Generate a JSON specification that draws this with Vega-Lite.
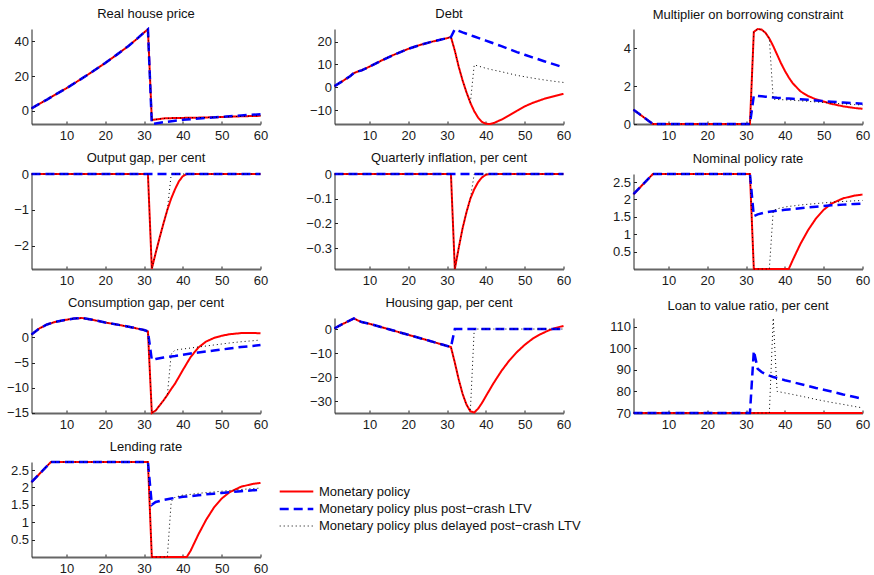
{
  "$schema": "https://vega.github.io/schema/vega-lite/v6.json",
  "padding": {"left": 5.5, "top": 8, "right": 0, "bottom": 0},
  "config": {
    "font": "Liberation Sans",
    "view": {"stroke": null},
    "axis": {"grid": false, "title": null, "labelFont": "Liberation Sans", "labelFontSize": 13, "labelColor": "#1a1a1a", "tickSize": -3, "tickColor": "#222", "labelFlush": false, "labelOverlap": false, "labelPadding": 6, "domainColor": "#222", "domainWidth": 1},
    "axisX": {"domainColor": "#666", "domainWidth": 2, "labelPadding": 8},
    "title": {"font": "Liberation Sans", "fontSize": 13, "fontWeight": "normal", "color": "#111", "offset": 3},
    "legend": {"orient": "none", "legendX": 257.5, "legendY": 455.5, "labelFont": "Liberation Sans", "labelFontSize": 13, "labelColor": "#111", "labelLimit": 0, "symbolType": "M-2.8,0H2.8", "symbolSize": 144, "labelOffset": 15, "rowPadding": 3, "padding": 0},
    "line": {"strokeCap": "butt"}
  },
  "datasets": {
    "house": [
      {"t":1,"m":1.5,"l":1.5,"d":1.5},{"t":3,"m":4,"l":4,"d":4},{"t":5,"m":6.5,"l":6.5,"d":6.5},{"t":7,"m":9.2,"l":9.2,"d":9.2},
      {"t":10,"m":13,"l":13,"d":13},{"t":13,"m":17.2,"l":17.2,"d":17.2},{"t":16,"m":21.5,"l":21.5,"d":21.5},{"t":20,"m":27.5,"l":27.5,"d":27.5},
      {"t":23,"m":32.3,"l":32.3,"d":32.3},{"t":26,"m":37.3,"l":37.3,"d":37.3},{"t":28,"m":41,"l":41,"d":41},{"t":30,"m":45,"l":45,"d":45},
      {"t":31,"m":46.8,"l":46.8,"d":46.8},{"t":32,"m":-5.2,"l":-7.5,"d":-5.2},{"t":35,"m":-4.3,"l":-6.5,"d":-4.3},{"t":38,"m":-4.05,"l":-5.6,"d":-4.05},
      {"t":40,"m":-4.0,"l":-5.1,"d":-4.0},{"t":45,"m":-3.8,"l":-4.2,"d":-3.8},{"t":50,"m":-3.5,"l":-3.4,"d":-3.5},{"t":55,"m":-3.1,"l":-2.6,"d":-3.1},
      {"t":60,"m":-2.8,"l":-1.9,"d":-2.8}
    ],
    "debt": [
      {"t":1,"m":0.5,"l":0.5,"d":0.5},{"t":3,"m":2.6,"l":2.6,"d":2.6},{"t":5,"m":4.8,"l":4.8,"d":4.8},{"t":6,"m":6.2,"l":6.2,"d":6.2},
      {"t":7,"m":6.9,"l":6.9,"d":6.9},{"t":8,"m":7.4,"l":7.4,"d":7.4},{"t":10,"m":9.0,"l":9.0,"d":9.0},{"t":13,"m":11.6,"l":11.6,"d":11.6},
      {"t":16,"m":14.0,"l":14.0,"d":14.0},{"t":20,"m":16.8,"l":16.8,"d":16.8},{"t":23,"m":18.5,"l":18.5,"d":18.5},{"t":26,"m":19.9,"l":19.9,"d":19.9},
      {"t":28,"m":20.7,"l":20.7,"d":20.7},{"t":30,"m":21.5,"l":21.5,"d":21.5},{"t":31,"m":22.0,"l":22.0,"d":22.0},
      {"t":32,"m":16,"l":25.4,"d":16},{"t":33,"m":9,"l":24.7,"d":9},{"t":34,"m":3,"l":24.0,"d":3},{"t":35,"m":-2.2,"l":23.4,"d":-2.2},
      {"t":36,"m":-6.8,"l":22.8,"d":-6.8},{"t":37,"m":-10.5,"l":22.2,"d":9.8},{"t":38,"m":-13.3,"l":21.6,"d":9.3},{"t":39,"m":-15.2,"l":21.0,"d":8.8},
      {"t":40,"m":-16.0,"l":20.4,"d":8.3},{"t":41,"m":-16.1,"l":19.8,"d":7.9},{"t":42,"m":-15.7,"l":19.2,"d":7.5},{"t":44,"m":-14.2,"l":18.0,"d":6.8},
      {"t":46,"m":-12.3,"l":16.7,"d":6.0},{"t":48,"m":-10.3,"l":15.4,"d":5.2},{"t":50,"m":-8.4,"l":14.2,"d":4.6},{"t":52,"m":-6.9,"l":13.1,"d":4.0},
      {"t":55,"m":-5.1,"l":11.4,"d":3.2},{"t":58,"m":-3.7,"l":9.8,"d":2.5},{"t":60,"m":-2.9,"l":8.7,"d":2.1}
    ],
    "mult": [
      {"t":1,"m":0.75,"l":0.75,"d":0.75},{"t":3,"m":0.45,"l":0.45,"d":0.45},{"t":5,"m":0.15,"l":0.15,"d":0.15},{"t":6,"m":0,"l":0,"d":0},
      {"t":31,"m":0,"l":0,"d":0},{"t":32,"m":4.85,"l":1.5,"d":4.85},{"t":33,"m":5.0,"l":1.48,"d":5.0},{"t":34,"m":4.97,"l":1.46,"d":4.97},
      {"t":35,"m":4.8,"l":1.44,"d":4.8},{"t":36,"m":4.5,"l":1.42,"d":4.5},{"t":37,"m":4.1,"l":1.4,"d":1.3},{"t":38,"m":3.65,"l":1.38,"d":1.29},
      {"t":39,"m":3.2,"l":1.37,"d":1.28},{"t":40,"m":2.8,"l":1.35,"d":1.27},{"t":41,"m":2.45,"l":1.34,"d":1.26},{"t":42,"m":2.15,"l":1.33,"d":1.25},
      {"t":44,"m":1.72,"l":1.3,"d":1.22},{"t":46,"m":1.47,"l":1.27,"d":1.19},{"t":48,"m":1.3,"l":1.24,"d":1.16},{"t":50,"m":1.18,"l":1.2,"d":1.13},
      {"t":52,"m":1.06,"l":1.17,"d":1.1},{"t":55,"m":0.93,"l":1.13,"d":1.06},{"t":58,"m":0.84,"l":1.09,"d":1.02},{"t":60,"m":0.8,"l":1.07,"d":1.0}
    ],
    "output": [
      {"t":1,"m":0,"l":0,"d":0},{"t":31,"m":0,"l":0,"d":0},{"t":32,"m":-2.64,"l":0,"d":-2.64},{"t":33,"m":-2.2,"l":0,"d":-2.2},
      {"t":34,"m":-1.78,"l":0,"d":-1.78},{"t":35,"m":-1.38,"l":0,"d":-1.38},{"t":36,"m":-1.0,"l":0,"d":-1.0},{"t":37,"m":-0.68,"l":0,"d":0},
      {"t":38,"m":-0.42,"l":0,"d":0},{"t":39,"m":-0.2,"l":0,"d":0},{"t":40,"m":-0.06,"l":0,"d":0},{"t":41,"m":0,"l":0,"d":0},{"t":60,"m":0,"l":0,"d":0}
    ],
    "infl": [
      {"t":1,"m":0,"l":0,"d":0},{"t":31,"m":0,"l":0,"d":0},{"t":32,"m":-0.385,"l":0,"d":-0.385},{"t":33,"m":-0.3,"l":0,"d":-0.3},
      {"t":34,"m":-0.22,"l":0,"d":-0.22},{"t":35,"m":-0.155,"l":0,"d":-0.155},{"t":36,"m":-0.1,"l":0,"d":-0.1},{"t":37,"m":-0.062,"l":0,"d":0},
      {"t":38,"m":-0.033,"l":0,"d":0},{"t":39,"m":-0.014,"l":0,"d":0},{"t":40,"m":-0.003,"l":0,"d":0},{"t":41,"m":0,"l":0,"d":0},{"t":60,"m":0,"l":0,"d":0}
    ],
    "nominal": [
      {"t":1,"m":2.15,"l":2.15,"d":2.15},{"t":6,"m":2.73,"l":2.73,"d":2.73},{"t":31,"m":2.73,"l":2.73,"d":2.73},
      {"t":32,"m":0,"l":1.52,"d":0},{"t":33,"m":0,"l":1.57,"d":0},{"t":35,"m":0,"l":1.63,"d":0},{"t":36,"m":0,"l":1.645,"d":0},
      {"t":37,"m":0,"l":1.66,"d":1.68},{"t":38,"m":0,"l":1.675,"d":1.73},{"t":40,"m":0,"l":1.7,"d":1.78},{"t":41,"m":0,"l":1.71,"d":1.8},
      {"t":42,"m":0.25,"l":1.72,"d":1.81},{"t":44,"m":0.72,"l":1.745,"d":1.84},{"t":46,"m":1.12,"l":1.77,"d":1.86},{"t":48,"m":1.45,"l":1.79,"d":1.88},
      {"t":50,"m":1.7,"l":1.81,"d":1.9},{"t":52,"m":1.88,"l":1.83,"d":1.92},{"t":55,"m":2.03,"l":1.85,"d":1.94},{"t":58,"m":2.11,"l":1.87,"d":1.96},
      {"t":60,"m":2.14,"l":1.88,"d":1.97}
    ],
    "cons": [
      {"t":1,"m":0.6,"l":0.6,"d":0.6},{"t":3,"m":1.8,"l":1.8,"d":1.8},{"t":5,"m":2.6,"l":2.6,"d":2.6},{"t":7,"m":3.1,"l":3.1,"d":3.1},
      {"t":10,"m":3.55,"l":3.55,"d":3.55},{"t":12,"m":3.8,"l":3.8,"d":3.8},{"t":14,"m":3.9,"l":3.9,"d":3.9},{"t":17,"m":3.5,"l":3.5,"d":3.5},
      {"t":20,"m":3.0,"l":3.0,"d":3.0},{"t":24,"m":2.45,"l":2.45,"d":2.45},{"t":27,"m":2.0,"l":2.0,"d":2.0},{"t":30,"m":1.5,"l":1.5,"d":1.5},
      {"t":31,"m":1.2,"l":1.2,"d":1.2},{"t":32,"m":-15.1,"l":-4.5,"d":-15.1},{"t":33,"m":-14.6,"l":-4.3,"d":-14.6},{"t":34,"m":-13.6,"l":-4.15,"d":-13.6},
      {"t":35,"m":-12.6,"l":-4.0,"d":-12.6},{"t":36,"m":-11.5,"l":-3.9,"d":-11.5},{"t":37,"m":-10.3,"l":-3.8,"d":-3.3},{"t":38,"m":-9.2,"l":-3.7,"d":-2.5},
      {"t":40,"m":-6.5,"l":-3.45,"d":-2.3},{"t":42,"m":-3.9,"l":-3.2,"d":-2.1},{"t":44,"m":-2.0,"l":-3.0,"d":-1.9},{"t":46,"m":-0.8,"l":-2.8,"d":-1.7},
      {"t":48,"m":-0.1,"l":-2.6,"d":-1.5},{"t":50,"m":0.35,"l":-2.4,"d":-1.3},{"t":52,"m":0.65,"l":-2.2,"d":-1.1},{"t":55,"m":0.88,"l":-1.9,"d":-0.85},
      {"t":58,"m":0.9,"l":-1.7,"d":-0.65},{"t":60,"m":0.85,"l":-1.5,"d":-0.5}
    ],
    "housing": [
      {"t":1,"m":0.3,"l":0.3,"d":0.3},{"t":3,"m":2.0,"l":2.0,"d":2.0},{"t":5,"m":3.6,"l":3.6,"d":3.6},{"t":6,"m":4.4,"l":4.4,"d":4.4},
      {"t":7,"m":3.6,"l":3.6,"d":3.6},{"t":8,"m":2.9,"l":2.9,"d":2.9},{"t":10,"m":2.2,"l":2.2,"d":2.2},{"t":15,"m":-0.1,"l":-0.1,"d":-0.1},
      {"t":20,"m":-2.4,"l":-2.4,"d":-2.4},{"t":25,"m":-4.7,"l":-4.7,"d":-4.7},{"t":28,"m":-6.1,"l":-6.1,"d":-6.1},{"t":31,"m":-7.5,"l":-7.5,"d":-7.5},
      {"t":32,"m":-14,"l":0,"d":-14},{"t":33,"m":-21,"l":0,"d":-21},{"t":34,"m":-27,"l":0,"d":-27},{"t":35,"m":-31.5,"l":0,"d":-31.5},
      {"t":36,"m":-34.3,"l":0,"d":-34.3},{"t":37,"m":-34.8,"l":0,"d":0},{"t":38,"m":-33.2,"l":0,"d":0},{"t":39,"m":-30.8,"l":0,"d":0},
      {"t":40,"m":-28,"l":0,"d":0},{"t":42,"m":-22.5,"l":0,"d":0},{"t":44,"m":-17.5,"l":0,"d":0},{"t":46,"m":-13.2,"l":0,"d":0},
      {"t":48,"m":-9.6,"l":0,"d":0},{"t":50,"m":-6.6,"l":0,"d":0},{"t":52,"m":-4.1,"l":0,"d":0},{"t":54,"m":-2.2,"l":0,"d":0},
      {"t":56,"m":-0.7,"l":0,"d":0},{"t":58,"m":0.5,"l":0,"d":0},{"t":60,"m":1.3,"l":0,"d":0}
    ],
    "ltv": [
      {"t":1,"m":70,"l":70,"d":70},{"t":31,"m":70,"l":70,"d":70},{"t":32,"m":70,"l":98.8,"d":70},{"t":33,"m":70,"l":90.5,"d":70},
      {"t":34,"m":70,"l":89,"d":70},{"t":35,"m":70,"l":88,"d":70},{"t":36,"m":70,"l":87.3,"d":70},{"t":37,"m":70,"l":86.7,"d":114},
      {"t":38,"m":70,"l":86.2,"d":80},{"t":40,"m":70,"l":85.2,"d":79.3},{"t":42,"m":70,"l":84.3,"d":78.6},{"t":45,"m":70,"l":83.0,"d":77.5},
      {"t":48,"m":70,"l":81.6,"d":76.3},{"t":50,"m":70,"l":80.8,"d":75.6},{"t":52,"m":70,"l":80.0,"d":74.9},{"t":55,"m":70,"l":78.6,"d":74.0},
      {"t":58,"m":70,"l":77.4,"d":73.0},{"t":60,"m":70,"l":76.6,"d":72.4}
    ],
    "lending": [
      {"t":1,"m":2.15,"l":2.15,"d":2.15},{"t":6,"m":2.73,"l":2.73,"d":2.73},{"t":31,"m":2.73,"l":2.73,"d":2.73},
      {"t":32,"m":0,"l":1.5,"d":0},{"t":33,"m":0,"l":1.58,"d":0},{"t":35,"m":0,"l":1.64,"d":0},{"t":36,"m":0,"l":1.66,"d":0},
      {"t":37,"m":0,"l":1.68,"d":1.6},{"t":38,"m":0,"l":1.7,"d":1.72},{"t":40,"m":0,"l":1.73,"d":1.78},{"t":41,"m":0,"l":1.74,"d":1.79},
      {"t":42,"m":0.18,"l":1.75,"d":1.8},{"t":44,"m":0.65,"l":1.775,"d":1.83},{"t":46,"m":1.07,"l":1.8,"d":1.85},{"t":48,"m":1.42,"l":1.82,"d":1.87},
      {"t":50,"m":1.68,"l":1.84,"d":1.89},{"t":52,"m":1.86,"l":1.86,"d":1.91},{"t":55,"m":2.02,"l":1.89,"d":1.94},{"t":58,"m":2.1,"l":1.915,"d":1.965},
      {"t":60,"m":2.13,"l":1.93,"d":1.98}
    ]
  },
  "columns": 3,
  "spacing": {"row": 10, "column": 37},
  "concat": [
    {"title": "Real house price", "width": 229, "height": 95, "data": {"name": "house"},
     "transform": [{"fold": ["m","l","d"], "as": ["s","v"]}],
     "mark": {"type": "line"},
     "encoding": {
       "x": {"field": "t", "type": "quantitative", "scale": {"domain": [1,60], "nice": false}, "axis": {"values": [10,20,30,40,50,60]}},
       "y": {"field": "v", "type": "quantitative", "scale": {"domain": [-7.5,47], "nice": false, "zero": false}, "axis": {"values": [0,20,40], "format": "~f"}},
       "color": {"field": "s", "type": "nominal", "scale": {"domain": ["m","l","d"], "range": ["#ff0000","#0000ff","#000000"]}, "legend": {"title": null, "labelExpr": "datum.value == 'm' ? 'Monetary policy' : datum.value == 'l' ? 'Monetary policy plus post−crash LTV' : 'Monetary policy plus delayed post−crash LTV'"}},
       "strokeDash": {"field": "s", "type": "nominal", "scale": {"domain": ["m","l","d"], "range": [[1,0],[9,5],[1,3]]}, "legend": {"title": null}},
       "strokeWidth": {"field": "s", "type": "nominal", "scale": {"type": "ordinal", "domain": ["m","l","d"], "range": [2,2.5,1]}, "legend": {"title": null}}
     }},
    {"title": "Debt", "width": 229, "height": 95, "data": {"name": "debt"},
     "transform": [{"fold": ["m","l","d"], "as": ["s","v"]}],
     "mark": {"type": "line"},
     "encoding": {
       "x": {"field": "t", "type": "quantitative", "scale": {"domain": [1,60], "nice": false}, "axis": {"values": [10,20,30,40,50,60]}},
       "y": {"field": "v", "type": "quantitative", "scale": {"domain": [-16.1,25.5], "nice": false, "zero": false}, "axis": {"values": [-10,0,10,20], "format": "~f"}},
       "color": {"field": "s", "type": "nominal", "scale": {"domain": ["m","l","d"], "range": ["#ff0000","#0000ff","#000000"]}, "legend": {"title": null}},
       "strokeDash": {"field": "s", "type": "nominal", "scale": {"domain": ["m","l","d"], "range": [[1,0],[9,5],[1,3]]}, "legend": {"title": null}},
       "strokeWidth": {"field": "s", "type": "nominal", "scale": {"type": "ordinal", "domain": ["m","l","d"], "range": [2,2.5,1]}, "legend": {"title": null}}
     }},
    {"title": "Multiplier on borrowing constraint", "width": 229, "height": 95, "data": {"name": "mult"},
     "transform": [{"fold": ["m","l","d"], "as": ["s","v"]}],
     "mark": {"type": "line"},
     "encoding": {
       "x": {"field": "t", "type": "quantitative", "scale": {"domain": [1,60], "nice": false}, "axis": {"values": [10,20,30,40,50,60]}},
       "y": {"field": "v", "type": "quantitative", "scale": {"domain": [0,5], "nice": false, "zero": false}, "axis": {"values": [0,2,4], "format": "~f"}},
       "color": {"field": "s", "type": "nominal", "scale": {"domain": ["m","l","d"], "range": ["#ff0000","#0000ff","#000000"]}, "legend": {"title": null}},
       "strokeDash": {"field": "s", "type": "nominal", "scale": {"domain": ["m","l","d"], "range": [[1,0],[9,5],[1,3]]}, "legend": {"title": null}},
       "strokeWidth": {"field": "s", "type": "nominal", "scale": {"type": "ordinal", "domain": ["m","l","d"], "range": [2,2.5,1]}, "legend": {"title": null}}
     }},
    {"title": "Output gap, per cent", "width": 229, "height": 95, "data": {"name": "output"},
     "transform": [{"fold": ["m","l","d"], "as": ["s","v"]}],
     "mark": {"type": "line"},
     "encoding": {
       "x": {"field": "t", "type": "quantitative", "scale": {"domain": [1,60], "nice": false}, "axis": {"values": [10,20,30,40,50,60]}},
       "y": {"field": "v", "type": "quantitative", "scale": {"domain": [-2.65,0], "nice": false, "zero": false}, "axis": {"values": [-2,-1,0], "format": "~f"}},
       "color": {"field": "s", "type": "nominal", "scale": {"domain": ["m","l","d"], "range": ["#ff0000","#0000ff","#000000"]}, "legend": {"title": null}},
       "strokeDash": {"field": "s", "type": "nominal", "scale": {"domain": ["m","l","d"], "range": [[1,0],[9,5],[1,3]]}, "legend": {"title": null}},
       "strokeWidth": {"field": "s", "type": "nominal", "scale": {"type": "ordinal", "domain": ["m","l","d"], "range": [2,2.5,1]}, "legend": {"title": null}}
     }},
    {"title": "Quarterly inflation, per cent", "width": 229, "height": 95, "data": {"name": "infl"},
     "transform": [{"fold": ["m","l","d"], "as": ["s","v"]}],
     "mark": {"type": "line"},
     "encoding": {
       "x": {"field": "t", "type": "quantitative", "scale": {"domain": [1,60], "nice": false}, "axis": {"values": [10,20,30,40,50,60]}},
       "y": {"field": "v", "type": "quantitative", "scale": {"domain": [-0.385,0], "nice": false, "zero": false}, "axis": {"values": [-0.3,-0.2,-0.1,0], "format": "~f"}},
       "color": {"field": "s", "type": "nominal", "scale": {"domain": ["m","l","d"], "range": ["#ff0000","#0000ff","#000000"]}, "legend": {"title": null}},
       "strokeDash": {"field": "s", "type": "nominal", "scale": {"domain": ["m","l","d"], "range": [[1,0],[9,5],[1,3]]}, "legend": {"title": null}},
       "strokeWidth": {"field": "s", "type": "nominal", "scale": {"type": "ordinal", "domain": ["m","l","d"], "range": [2,2.5,1]}, "legend": {"title": null}}
     }},
    {"title": "Nominal policy rate", "width": 229, "height": 95, "data": {"name": "nominal"},
     "transform": [{"fold": ["m","l","d"], "as": ["s","v"]}],
     "mark": {"type": "line"},
     "encoding": {
       "x": {"field": "t", "type": "quantitative", "scale": {"domain": [1,60], "nice": false}, "axis": {"values": [10,20,30,40,50,60]}},
       "y": {"field": "v", "type": "quantitative", "scale": {"domain": [0,2.73], "nice": false, "zero": false}, "axis": {"values": [0.5,1,1.5,2,2.5], "format": "~f"}},
       "color": {"field": "s", "type": "nominal", "scale": {"domain": ["m","l","d"], "range": ["#ff0000","#0000ff","#000000"]}, "legend": {"title": null}},
       "strokeDash": {"field": "s", "type": "nominal", "scale": {"domain": ["m","l","d"], "range": [[1,0],[9,5],[1,3]]}, "legend": {"title": null}},
       "strokeWidth": {"field": "s", "type": "nominal", "scale": {"type": "ordinal", "domain": ["m","l","d"], "range": [2,2.5,1]}, "legend": {"title": null}}
     }},
    {"title": "Consumption gap, per cent", "width": 229, "height": 95, "data": {"name": "cons"},
     "transform": [{"fold": ["m","l","d"], "as": ["s","v"]}],
     "mark": {"type": "line"},
     "encoding": {
       "x": {"field": "t", "type": "quantitative", "scale": {"domain": [1,60], "nice": false}, "axis": {"values": [10,20,30,40,50,60]}},
       "y": {"field": "v", "type": "quantitative", "scale": {"domain": [-15.1,3.9], "nice": false, "zero": false}, "axis": {"values": [-15,-10,-5,0], "format": "~f"}},
       "color": {"field": "s", "type": "nominal", "scale": {"domain": ["m","l","d"], "range": ["#ff0000","#0000ff","#000000"]}, "legend": {"title": null}},
       "strokeDash": {"field": "s", "type": "nominal", "scale": {"domain": ["m","l","d"], "range": [[1,0],[9,5],[1,3]]}, "legend": {"title": null}},
       "strokeWidth": {"field": "s", "type": "nominal", "scale": {"type": "ordinal", "domain": ["m","l","d"], "range": [2,2.5,1]}, "legend": {"title": null}}
     }},
    {"title": "Housing gap, per cent", "width": 229, "height": 95, "data": {"name": "housing"},
     "transform": [{"fold": ["m","l","d"], "as": ["s","v"]}],
     "mark": {"type": "line"},
     "encoding": {
       "x": {"field": "t", "type": "quantitative", "scale": {"domain": [1,60], "nice": false}, "axis": {"values": [10,20,30,40,50,60]}},
       "y": {"field": "v", "type": "quantitative", "scale": {"domain": [-35,4.6], "nice": false, "zero": false}, "axis": {"values": [-30,-20,-10,0], "format": "~f"}},
       "color": {"field": "s", "type": "nominal", "scale": {"domain": ["m","l","d"], "range": ["#ff0000","#0000ff","#000000"]}, "legend": {"title": null}},
       "strokeDash": {"field": "s", "type": "nominal", "scale": {"domain": ["m","l","d"], "range": [[1,0],[9,5],[1,3]]}, "legend": {"title": null}},
       "strokeWidth": {"field": "s", "type": "nominal", "scale": {"type": "ordinal", "domain": ["m","l","d"], "range": [2,2.5,1]}, "legend": {"title": null}}
     }},
    {"title": "Loan to value ratio, per cent", "width": 229, "height": 95, "data": {"name": "ltv"},
     "transform": [{"fold": ["m","l","d"], "as": ["s","v"]}],
     "mark": {"type": "line"},
     "encoding": {
       "x": {"field": "t", "type": "quantitative", "scale": {"domain": [1,60], "nice": false}, "axis": {"values": [10,20,30,40,50,60]}},
       "y": {"field": "v", "type": "quantitative", "scale": {"domain": [70,114], "nice": false, "zero": false}, "axis": {"values": [70,80,90,100,110], "format": "~f"}},
       "color": {"field": "s", "type": "nominal", "scale": {"domain": ["m","l","d"], "range": ["#ff0000","#0000ff","#000000"]}, "legend": {"title": null}},
       "strokeDash": {"field": "s", "type": "nominal", "scale": {"domain": ["m","l","d"], "range": [[1,0],[9,5],[1,3]]}, "legend": {"title": null}},
       "strokeWidth": {"field": "s", "type": "nominal", "scale": {"type": "ordinal", "domain": ["m","l","d"], "range": [2,2.5,1]}, "legend": {"title": null}}
     }},
    {"title": "Lending rate", "width": 229, "height": 95, "data": {"name": "lending"},
     "transform": [{"fold": ["m","l","d"], "as": ["s","v"]}],
     "mark": {"type": "line"},
     "encoding": {
       "x": {"field": "t", "type": "quantitative", "scale": {"domain": [1,60], "nice": false}, "axis": {"values": [10,20,30,40,50,60]}},
       "y": {"field": "v", "type": "quantitative", "scale": {"domain": [0,2.73], "nice": false, "zero": false}, "axis": {"values": [0.5,1,1.5,2,2.5], "format": "~f"}},
       "color": {"field": "s", "type": "nominal", "scale": {"domain": ["m","l","d"], "range": ["#ff0000","#0000ff","#000000"]}, "legend": {"title": null}},
       "strokeDash": {"field": "s", "type": "nominal", "scale": {"domain": ["m","l","d"], "range": [[1,0],[9,5],[1,3]]}, "legend": {"title": null}},
       "strokeWidth": {"field": "s", "type": "nominal", "scale": {"type": "ordinal", "domain": ["m","l","d"], "range": [2,2.5,1]}, "legend": {"title": null}}
     }}
  ]
}
